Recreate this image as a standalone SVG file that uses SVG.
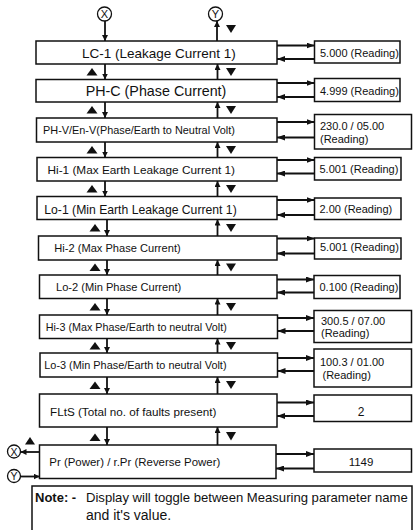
<svg xmlns="http://www.w3.org/2000/svg" width="413" height="530" viewBox="0 0 413 530">
<style>
.box{fill:#fff;stroke:#111;stroke-width:1.5}
.t{font-family:"Liberation Sans",Arial,sans-serif;fill:#111}
.c{stroke:#111;stroke-width:1.8;fill:none}
.tri{fill:#111;stroke:none}
.circ{fill:#fff;stroke:#111;stroke-width:1.3}
</style>
<defs>
<marker id="ah" viewBox="0 0 8 6" refX="8" refY="3" markerWidth="8" markerHeight="6" markerUnits="userSpaceOnUse" orient="auto"><path d="M0,0 L8,3 L0,6 z" fill="#111"/></marker>
<marker id="av" viewBox="0 0 6 6" refX="6" refY="3" markerWidth="6" markerHeight="6" markerUnits="userSpaceOnUse" orient="auto"><path d="M0,0 L6,3 L0,6 z" fill="#111"/></marker>
</defs>

<!-- main nodes -->
<g id="n-lc1"><rect class="box" x="36" y="41" width="241" height="23"/><text class="t" x="82" y="58" font-size="13.5">LC-1 (Leakage Current 1)</text></g>
<g id="n-phc"><rect class="box" x="36" y="79.5" width="241" height="22.5"/><text class="t" x="85.7" y="95.5" font-size="14.3">PH-C (Phase Current)</text></g>
<g id="n-phv"><rect class="box" x="36.5" y="118" width="240.5" height="24"/><text class="t" x="43" y="134" font-size="10.9">PH-V/En-V(Phase/Earth to Neutral Volt)</text></g>
<g id="n-hi1"><rect class="box" x="37" y="157.5" width="240" height="23.5"/><text class="t" x="47.5" y="173.5" font-size="11.8">Hi-1 (Max Earth Leakage Current 1)</text></g>
<g id="n-lo1"><rect class="box" x="37" y="196.5" width="240" height="23"/><text class="t" x="44.3" y="213.5" font-size="12.2">Lo-1 (Min Earth Leakage Current 1)</text></g>
<g id="n-hi2"><rect class="box" x="38.5" y="236" width="238.5" height="24"/><text class="t" x="54.3" y="252" font-size="11.1">Hi-2 (Max Phase Current)</text></g>
<g id="n-lo2"><rect class="box" x="39.5" y="275" width="237.5" height="23.5"/><text class="t" x="56" y="291" font-size="11.1">Lo-2 (Min Phase Current)</text></g>
<g id="n-hi3"><rect class="box" x="39.5" y="315" width="238" height="23.5"/><text class="t" x="45.7" y="330.5" font-size="10.75">Hi-3 (Max Phase/Earth to neutral Volt)</text></g>
<g id="n-lo3"><rect class="box" x="40" y="353" width="237.5" height="24"/><text class="t" x="44.3" y="369" font-size="10.9">Lo-3 (Min Phase/Earth to neutral Volt)</text></g>
<g id="n-flts"><rect class="box" x="39.5" y="394" width="237.5" height="33"/><text class="t" x="50" y="415.5" font-size="11.7">FLtS (Total no. of faults present)</text></g>
<g id="n-pr"><rect class="box" x="39.5" y="445" width="236.5" height="33.5"/><text class="t" x="49.3" y="465.5" font-size="11.45">Pr (Power) / r.Pr (Reverse Power)</text></g>

<!-- reading nodes -->
<g id="r-lc1"><rect class="box" x="314.5" y="41" width="85.5" height="22"/><text class="t" x="320" y="56.5" font-size="11">5.000 (Reading)</text></g>
<g id="r-phc"><rect class="box" x="314.5" y="78.5" width="85.5" height="23"/><text class="t" x="320" y="94.5" font-size="11">4.999 (Reading)</text></g>
<g id="r-phv"><rect class="box" x="314.5" y="114.5" width="97" height="34.5"/><text class="t" x="320" y="130" font-size="11">230.0 / 05.00</text><text class="t" x="320" y="142.5" font-size="11">(Reading)</text></g>
<g id="r-hi1"><rect class="box" x="314.5" y="157.5" width="86.5" height="22.5"/><text class="t" x="319.5" y="173" font-size="11">5.001 (Reading)</text></g>
<g id="r-lo1"><rect class="box" x="314.5" y="198" width="86.5" height="21.5"/><text class="t" x="319.5" y="213" font-size="11">2.00 (Reading)</text></g>
<g id="r-hi2"><rect class="box" x="314.5" y="238" width="86.5" height="21"/><text class="t" x="320" y="251" font-size="11">5.001 (Reading)</text></g>
<g id="r-lo2"><rect class="box" x="314" y="275.5" width="86" height="23"/><text class="t" x="319.5" y="291" font-size="11">0.100 (Reading)</text></g>
<g id="r-hi3"><rect class="box" x="314" y="310.5" width="97.5" height="32"/><text class="t" x="321" y="324.5" font-size="11">300.5 / 07.00</text><text class="t" x="321" y="336.5" font-size="11">(Reading)</text></g>
<g id="r-lo3"><rect class="box" x="314" y="349" width="97.5" height="38"/><text class="t" x="320" y="365.5" font-size="11">100.3 / 01.00</text><text class="t" x="322.5" y="379" font-size="11">(Reading)</text></g>
<g id="r-flts"><rect class="box" x="314" y="395" width="97.5" height="26.5"/><text class="t" x="361" y="416" font-size="12" text-anchor="middle">2</text></g>
<g id="r-pr"><rect class="box" x="314" y="449" width="97.5" height="23"/><text class="t" x="361" y="466" font-size="11.5" text-anchor="middle">1149</text></g>

<!-- terminals -->
<g id="x-top"><circle class="circ" cx="104.5" cy="14" r="7"/><text class="t" x="104.5" y="18" font-size="11" text-anchor="middle">X</text></g>
<g id="y-top"><circle class="circ" cx="215.5" cy="14" r="7"/><text class="t" x="215.5" y="18" font-size="11" text-anchor="middle">Y</text></g>
<g id="x-bot"><circle class="circ" cx="14" cy="451.5" r="6.5"/><text class="t" x="14" y="455.5" font-size="10.5" text-anchor="middle">X</text></g>
<g id="y-bot"><circle class="circ" cx="14" cy="476" r="6.5"/><text class="t" x="14" y="480" font-size="10.5" text-anchor="middle">Y</text></g>

<!-- note -->
<g id="note"><rect class="box" x="32" y="486" width="380" height="60"/>
<text class="t" x="35" y="501.5" font-size="13" font-weight="bold">Note: -</text>
<text class="t" x="86" y="501.5" font-size="13.1">Display will toggle between Measuring parameter name</text>
<text class="t" x="86" y="520" font-size="14">and it's value.</text></g>

<!-- connectors -->
<g id="connectors">
<line class="c" x1="105" y1="21" x2="105" y2="41" marker-end="url(#av)"/>
<line class="c" x1="217" y1="41" x2="217" y2="21" marker-end="url(#av)"/>
<polygon class="tri" points="226,25 236,25 231,33"/>
<line class="c" x1="105" y1="64" x2="105" y2="79.5" marker-end="url(#av)"/>
<line class="c" x1="105" y1="102" x2="105" y2="118" marker-end="url(#av)"/>
<line class="c" x1="105" y1="142" x2="105" y2="157.5" marker-end="url(#av)"/>
<line class="c" x1="105" y1="181" x2="105" y2="196.5" marker-end="url(#av)"/>
<line class="c" x1="107" y1="219.5" x2="107" y2="236" marker-end="url(#av)"/>
<line class="c" x1="107" y1="260" x2="107" y2="275" marker-end="url(#av)"/>
<line class="c" x1="107" y1="298.5" x2="107" y2="315" marker-end="url(#av)"/>
<line class="c" x1="107" y1="338.5" x2="107" y2="353" marker-end="url(#av)"/>
<line class="c" x1="107" y1="377" x2="107" y2="394" marker-end="url(#av)"/>
<line class="c" x1="107" y1="427" x2="107" y2="445" marker-end="url(#av)"/>
<polygon class="tri" points="86.5,75.5 97.5,75.5 92,68"/>
<polygon class="tri" points="86.5,113.5 97.5,113.5 92,106"/>
<polygon class="tri" points="86.5,153.5 97.5,153.5 92,146"/>
<polygon class="tri" points="86.5,192.5 97.5,192.5 92,185"/>
<polygon class="tri" points="89.5,231.5 100.5,231.5 95,224"/>
<polygon class="tri" points="89.5,271 100.5,271 95,263.5"/>
<polygon class="tri" points="89.5,310.5 100.5,310.5 95,303"/>
<polygon class="tri" points="89.5,349.5 100.5,349.5 95,342"/>
<polygon class="tri" points="89.5,389 100.5,389 95,381.5"/>
<polygon class="tri" points="89.5,441 100.5,441 95,433.5"/>
<line class="c" x1="217.5" y1="79.5" x2="217.5" y2="64" marker-end="url(#av)"/>
<line class="c" x1="217.5" y1="118" x2="217.5" y2="102" marker-end="url(#av)"/>
<line class="c" x1="217.5" y1="157.5" x2="217.5" y2="142" marker-end="url(#av)"/>
<line class="c" x1="217.5" y1="196.5" x2="217.5" y2="181" marker-end="url(#av)"/>
<line class="c" x1="217.5" y1="236" x2="217.5" y2="219.5" marker-end="url(#av)"/>
<line class="c" x1="217.5" y1="275" x2="217.5" y2="260" marker-end="url(#av)"/>
<line class="c" x1="217.5" y1="315" x2="217.5" y2="298.5" marker-end="url(#av)"/>
<line class="c" x1="217.5" y1="353" x2="217.5" y2="338.5" marker-end="url(#av)"/>
<line class="c" x1="217.5" y1="394" x2="217.5" y2="377" marker-end="url(#av)"/>
<line class="c" x1="217.5" y1="445" x2="217.5" y2="427" marker-end="url(#av)"/>
<polygon class="tri" points="226,68 236,68 231,76"/>
<polygon class="tri" points="226,106 236,106 231,114"/>
<polygon class="tri" points="226,146 236,146 231,154"/>
<polygon class="tri" points="226,185 236,185 231,193"/>
<polygon class="tri" points="226,224 236,224 231,232"/>
<polygon class="tri" points="226,263.5 236,263.5 231,271.5"/>
<polygon class="tri" points="226,303 236,303 231,311"/>
<polygon class="tri" points="226,342 236,342 231,350"/>
<polygon class="tri" points="226,381 236,381 231,389"/>
<polygon class="tri" points="226,432 236,432 231,440.5"/>
<line class="c" x1="277" y1="45.5" x2="314.5" y2="45.5" marker-end="url(#ah)"/>
<line class="c" x1="314.5" y1="59" x2="277" y2="59" marker-end="url(#ah)"/>
<line class="c" x1="277" y1="83" x2="314.5" y2="83" marker-end="url(#ah)"/>
<line class="c" x1="314.5" y1="97" x2="277" y2="97" marker-end="url(#ah)"/>
<line class="c" x1="277" y1="122" x2="314.5" y2="122" marker-end="url(#ah)"/>
<line class="c" x1="314.5" y1="137.5" x2="277" y2="137.5" marker-end="url(#ah)"/>
<line class="c" x1="277" y1="160" x2="314.5" y2="160" marker-end="url(#ah)"/>
<line class="c" x1="314.5" y1="173.5" x2="277" y2="173.5" marker-end="url(#ah)"/>
<line class="c" x1="277" y1="200" x2="314.5" y2="200" marker-end="url(#ah)"/>
<line class="c" x1="314.5" y1="215" x2="277" y2="215" marker-end="url(#ah)"/>
<line class="c" x1="277" y1="238.5" x2="314.5" y2="238.5" marker-end="url(#ah)"/>
<line class="c" x1="314.5" y1="253.5" x2="277" y2="253.5" marker-end="url(#ah)"/>
<line class="c" x1="277" y1="279.5" x2="314" y2="279.5" marker-end="url(#ah)"/>
<line class="c" x1="314" y1="292.5" x2="277" y2="292.5" marker-end="url(#ah)"/>
<line class="c" x1="277.5" y1="318" x2="314" y2="318" marker-end="url(#ah)"/>
<line class="c" x1="314" y1="331" x2="277.5" y2="331" marker-end="url(#ah)"/>
<line class="c" x1="277.5" y1="358" x2="314" y2="358" marker-end="url(#ah)"/>
<line class="c" x1="314" y1="371" x2="277.5" y2="371" marker-end="url(#ah)"/>
<line class="c" x1="277" y1="402.5" x2="314" y2="402.5" marker-end="url(#ah)"/>
<line class="c" x1="314" y1="416" x2="277" y2="416" marker-end="url(#ah)"/>
<line class="c" x1="276" y1="454" x2="314" y2="454" marker-end="url(#ah)"/>
<line class="c" x1="314" y1="468.5" x2="276" y2="468.5" marker-end="url(#ah)"/>
<polygon class="tri" points="25,444.5 35,444.5 30,437"/>
<line class="c" x1="39.5" y1="452" x2="20.5" y2="452" marker-end="url(#av)"/>
<line class="c" x1="20.5" y1="476.5" x2="39.5" y2="476.5" marker-end="url(#av)"/>
</g>
</svg>
